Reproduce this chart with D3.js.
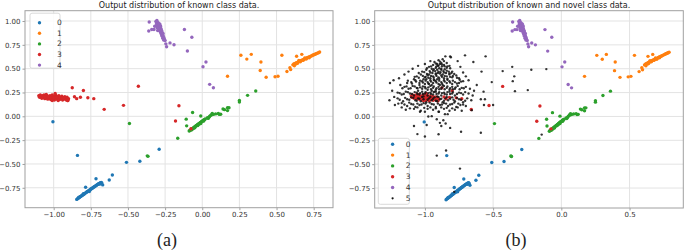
<!DOCTYPE html>
<html>
<head>
<meta charset="utf-8">
<script src="https://cdn.jsdelivr.net/npm/d3@7"></script>
<style>
  body { margin: 0; background: #fff; }
  svg { display: block; }
</style>
</head>
<body>
<svg id="drawing_region"></svg>
<script>
// ---- data (x, y in output space) ----
const classNames = ['0', '1', '2', '3', '4'];
const novelName = '5';
const classColors = ['#1f77b4', '#ff7f0e', '#2ca02c', '#d62728', '#9467bd'];

const class0 = [
  [-0.845,-0.872],[-0.840,-0.866],[-0.836,-0.860],[-0.832,-0.858],[-0.828,-0.851],[-0.824,-0.848],
  [-0.820,-0.842],[-0.816,-0.840],[-0.812,-0.834],[-0.808,-0.829],[-0.804,-0.826],[-0.800,-0.821],
  [-0.796,-0.815],[-0.792,-0.812],[-0.788,-0.806],[-0.784,-0.803],[-0.780,-0.797],[-0.776,-0.794],
  [-0.772,-0.788],[-0.768,-0.786],[-0.764,-0.780],[-0.760,-0.775],[-0.756,-0.772],[-0.752,-0.766],
  [-0.748,-0.763],[-0.744,-0.758],[-0.740,-0.754],[-0.736,-0.749],[-0.732,-0.745],[-0.728,-0.741],
  [-0.724,-0.736],[-0.720,-0.733],[-0.716,-0.727],[-0.712,-0.724],[-0.708,-0.719],[-0.704,-0.716],
  [-0.700,-0.711],[-0.696,-0.708],[-0.692,-0.704],[-0.688,-0.700],[-0.684,-0.698],[-0.680,-0.694],
  [-0.676,-0.700],[-0.690,-0.712],[-0.760,-0.790],[-0.800,-0.812],[-0.830,-0.849],
  [-1.005,-0.057],[-0.840,-0.410],[-0.715,-0.655],[-0.670,-0.720],[-0.626,-0.668],[-0.605,-0.616],
  [-0.510,-0.483],[-0.420,-0.472],[-0.290,-0.346],[-0.785,-0.745]
];
const class1 = [
  [0.610,0.540],[0.616,0.548],[0.622,0.552],[0.628,0.556],[0.634,0.562],[0.640,0.565],[0.646,0.571],
  [0.652,0.574],[0.658,0.580],[0.664,0.583],[0.670,0.589],[0.676,0.592],[0.682,0.597],[0.688,0.600],
  [0.694,0.606],[0.700,0.609],[0.706,0.614],[0.712,0.617],[0.718,0.623],[0.724,0.626],[0.730,0.631],
  [0.736,0.634],[0.742,0.640],[0.748,0.643],[0.754,0.648],[0.760,0.651],[0.766,0.657],[0.772,0.660],
  [0.778,0.665],[0.784,0.668],[0.790,0.674],[0.640,0.555],[0.660,0.572],[0.680,0.588],[0.700,0.600],
  [0.720,0.615],[0.650,0.585],[0.690,0.612],[0.620,0.530],[0.630,0.548],
  [0.260,0.640],[0.330,0.650],[0.300,0.600],[0.395,0.570],[0.390,0.480],[0.430,0.410],[0.170,0.420],
  [0.490,0.415],[0.510,0.420],[0.536,0.640],[0.635,0.630],[0.670,0.650],[0.570,0.470],[0.590,0.510],
  [0.595,0.490]
];
const class2 = [
  [-0.088,-0.155],[-0.084,-0.149],[-0.080,-0.146],[-0.076,-0.140],[-0.072,-0.136],[-0.068,-0.130],
  [-0.064,-0.127],[-0.060,-0.121],[-0.056,-0.117],[-0.052,-0.112],[-0.048,-0.108],[-0.044,-0.102],
  [-0.040,-0.099],[-0.036,-0.093],[-0.032,-0.089],[-0.028,-0.083],[-0.024,-0.080],[-0.020,-0.074],
  [-0.016,-0.070],[-0.012,-0.064],[-0.008,-0.061],[-0.004,-0.055],[0.000,-0.052],[0.004,-0.046],
  [0.008,-0.042],[0.012,-0.037],[0.016,-0.033],[0.020,-0.028],[-0.070,-0.142],[-0.050,-0.120],
  [-0.030,-0.096],[-0.010,-0.075],[0.010,-0.050],[-0.060,-0.128],[-0.020,-0.082],[0.035,-0.015],
  [0.040,-0.022],[0.045,-0.010],[0.050,0.000],[0.058,0.012],[0.063,0.015],[0.067,0.030],[0.075,0.020],
  [0.090,0.025],[0.108,0.030],[0.115,0.020],[0.124,0.022],[0.140,0.077],[0.150,0.070],[0.170,0.090],
  [0.180,0.090],[0.170,0.060],[0.250,0.165],[0.250,0.150],[0.305,0.220],[0.360,0.265],
  [-0.065,0.040],[-0.010,0.003],[-0.108,-0.030],[-0.105,-0.100],[-0.165,-0.230],[-0.370,-0.415],
  [-0.365,-0.420],[-0.490,-0.075]
];
const class3 = [
  [-1.100,0.215],[-1.095,0.200],[-1.090,0.225],[-1.085,0.205],[-1.080,0.190],[-1.075,0.215],
  [-1.070,0.200],[-1.065,0.225],[-1.060,0.185],[-1.055,0.210],[-1.050,0.195],[-1.045,0.220],
  [-1.040,0.180],[-1.035,0.205],[-1.030,0.190],[-1.025,0.215],[-1.020,0.175],[-1.015,0.200],
  [-1.010,0.225],[-1.005,0.185],[-1.000,0.210],[-0.995,0.170],[-0.990,0.195],[-0.985,0.220],
  [-0.980,0.180],[-0.975,0.205],[-0.970,0.190],[-0.965,0.215],[-0.960,0.175],[-0.955,0.200],
  [-0.950,0.185],[-0.945,0.210],[-0.940,0.170],[-0.935,0.195],[-0.930,0.180],[-0.925,0.205],
  [-0.920,0.190],[-0.915,0.170],[-0.910,0.200],[-0.905,0.165],[-0.900,0.185],[-1.060,0.205],
  [-1.040,0.200],[-1.020,0.195],[-1.000,0.195],[-0.980,0.200],[-0.960,0.195],[-0.940,0.190],
  [-0.990,0.240],[-1.050,0.230],[-0.970,0.165],[-1.010,0.165],
  [-0.875,0.300],[-0.800,0.270],[-0.770,0.195],[-0.730,0.185],[-0.820,0.200],[-0.845,0.185],
  [-0.860,0.205],[-0.660,0.073],[-0.530,0.115],[-0.430,0.315],[-0.157,0.110],[-0.180,-0.050],
  [-0.076,-0.130],[-0.905,0.165]
];
const class4 = [
  [-0.312,0.995],[-0.305,1.005],[-0.300,0.985],[-0.308,0.970],[-0.298,0.965],[-0.295,0.980],
  [-0.290,0.955],[-0.302,0.950],[-0.287,0.945],[-0.293,0.935],[-0.285,0.925],[-0.280,0.940],
  [-0.296,0.920],[-0.283,0.910],[-0.278,0.920],[-0.289,0.900],[-0.275,0.895],[-0.282,0.885],
  [-0.271,0.880],[-0.277,0.870],[-0.268,0.865],[-0.274,0.855],[-0.265,0.850],[-0.270,0.840],
  [-0.262,0.835],[-0.258,0.825],[-0.266,0.820],[-0.255,0.810],[-0.260,0.800],[-0.250,0.795],
  [-0.292,0.960],[-0.286,0.970],[-0.304,0.930],[-0.281,0.950],[-0.276,0.905],[-0.290,0.915],
  [-0.272,0.895],[-0.264,0.870],[-0.320,0.945],[-0.325,0.910],[-0.300,0.900],
  [-0.360,0.895],[-0.340,0.910],[-0.357,0.990],[-0.240,0.730],[-0.190,0.750],[-0.217,0.770],
  [-0.120,0.910],[-0.070,0.830],[-0.100,0.685],[0.005,0.520],[0.025,0.570],[0.050,0.335],
  [0.075,0.300],[-0.245,0.760]
];
const class5 = [
  [-0.93,0.57],[-0.90,0.59],[-0.88,0.56],[-0.86,0.58],[-0.91,0.55],[-0.87,0.60],[-0.84,0.56],
  [-0.97,0.52],[-0.94,0.54],[-0.92,0.51],[-0.90,0.53],[-0.88,0.50],[-0.86,0.54],[-0.84,0.51],
  [-0.95,0.50],[-0.89,0.55],[-0.82,0.53],
  [-1.02,0.47],[-0.99,0.49],[-0.96,0.46],[-0.94,0.48],[-0.92,0.45],[-0.90,0.47],[-0.88,0.49],
  [-0.86,0.46],[-0.84,0.48],[-0.82,0.45],[-0.97,0.44],[-0.91,0.49],[-0.87,0.44],[-0.80,0.47],
  [-1.06,0.42],[-1.03,0.44],[-1.00,0.41],[-0.98,0.43],[-0.96,0.40],[-0.94,0.42],[-0.92,0.44],
  [-0.90,0.41],[-0.88,0.43],[-0.86,0.40],[-0.84,0.42],[-0.82,0.44],[-0.80,0.41],[-0.77,0.43],
  [-0.99,0.39],[-0.93,0.38],[-0.89,0.45],[-1.08,0.39],[-0.75,0.40],
  [-1.10,0.36],[-1.07,0.38],[-1.04,0.35],[-1.02,0.37],[-1.00,0.34],[-0.98,0.36],[-0.96,0.38],
  [-0.94,0.35],[-0.92,0.37],[-0.90,0.34],[-0.88,0.36],[-0.86,0.38],[-0.84,0.35],[-0.82,0.37],
  [-0.80,0.34],[-0.78,0.36],[-0.75,0.35],[-1.01,0.39],[-0.95,0.33],[-0.91,0.39],[-0.87,0.33],
  [-1.13,0.35],[-0.72,0.37],
  [-1.15,0.31],[-1.12,0.29],[-1.09,0.32],[-1.06,0.30],[-1.04,0.33],[-1.02,0.29],[-1.00,0.31],
  [-0.98,0.28],[-0.96,0.32],[-0.94,0.30],[-0.92,0.28],[-0.90,0.31],[-0.88,0.29],[-0.86,0.32],
  [-0.84,0.30],[-0.82,0.28],[-0.80,0.31],[-0.78,0.29],[-0.76,0.32],[-0.73,0.30],[-0.70,0.31],
  [-1.05,0.27],[-0.97,0.34],[-0.93,0.26],[-0.89,0.33],[-1.18,0.33],[-0.67,0.29],
  [-1.20,0.25],[-1.17,0.23],[-1.14,0.26],[-1.11,0.24],[-1.08,0.22],[-1.06,0.25],[-1.04,0.23],
  [-1.02,0.26],[-1.00,0.24],[-0.98,0.22],[-0.96,0.25],[-0.94,0.23],[-0.92,0.26],[-0.90,0.24],
  [-0.88,0.22],[-0.86,0.25],[-0.84,0.23],[-0.82,0.26],[-0.80,0.24],[-0.78,0.22],[-0.75,0.25],
  [-0.72,0.23],[-0.68,0.24],[-1.01,0.21],[-0.95,0.27],[-0.91,0.21],[-0.65,0.22],[-1.24,0.27],
  [-1.26,0.17],[-1.20,0.19],[-1.16,0.16],[-1.13,0.18],[-1.10,0.20],[-1.07,0.17],[-1.05,0.19],
  [-1.03,0.16],[-1.01,0.18],[-0.99,0.15],[-0.97,0.19],[-0.95,0.17],[-0.93,0.20],[-0.91,0.16],
  [-0.89,0.18],[-0.87,0.15],[-0.85,0.19],[-0.83,0.17],[-0.80,0.20],[-0.78,0.16],[-0.75,0.18],
  [-0.72,0.15],[-0.69,0.19],[-0.66,0.17],
  [-1.22,0.12],[-1.17,0.14],[-1.13,0.11],[-1.10,0.13],[-1.07,0.10],[-1.04,0.12],[-1.01,0.14],
  [-0.98,0.11],[-0.95,0.13],[-0.92,0.10],[-0.89,0.12],[-0.86,0.14],[-0.83,0.11],[-0.80,0.13],
  [-0.77,0.10],[-0.74,0.12],[-0.70,0.11],
  [-1.14,0.07],[-1.08,0.08],[-1.03,0.06],[-0.98,0.08],[-0.94,0.07],[-0.90,0.05],[-0.86,0.08],
  [-0.82,0.06],[-0.78,0.07],[-0.73,0.06],
  [-0.92,0.555],[-0.89,0.575],[-0.875,0.545],[-0.905,0.535],[-0.855,0.525],
  [-0.985,0.505],[-0.955,0.525],[-0.935,0.495],[-0.915,0.525],[-0.895,0.505],[-0.875,0.525],
  [-0.855,0.495],[-0.835,0.525],[-0.815,0.505],
  [-1.045,0.455],[-1.005,0.465],[-0.985,0.445],[-0.965,0.475],[-0.945,0.455],[-0.925,0.475],
  [-0.905,0.455],[-0.885,0.465],[-0.865,0.475],[-0.845,0.455],[-0.825,0.470],[-0.805,0.455],
  [-0.785,0.445],
  [-1.075,0.415],[-1.045,0.405],[-1.015,0.425],[-0.995,0.415],[-0.975,0.405],[-0.955,0.425],
  [-0.935,0.405],[-0.915,0.425],[-0.895,0.395],[-0.875,0.415],[-0.855,0.425],[-0.835,0.395],
  [-0.815,0.415],[-0.795,0.425],[-0.765,0.405],[-0.745,0.385],
  [-1.125,0.375],[-1.095,0.345],[-1.065,0.365],[-1.035,0.375],[-1.015,0.355],[-0.995,0.375],
  [-0.975,0.345],[-0.955,0.365],[-0.935,0.385],[-0.915,0.355],[-0.895,0.375],[-0.875,0.345],
  [-0.855,0.365],[-0.835,0.385],[-0.815,0.355],[-0.795,0.375],[-0.765,0.345],[-0.735,0.365],
  [-1.165,0.295],[-1.135,0.315],[-1.105,0.295],[-1.075,0.315],[-1.055,0.295],[-1.035,0.305],
  [-1.015,0.315],[-0.995,0.295],[-0.975,0.305],[-0.955,0.285],[-0.935,0.315],[-0.915,0.295],
  [-0.895,0.285],[-0.875,0.305],[-0.855,0.285],[-0.835,0.315],[-0.815,0.295],[-0.795,0.285],
  [-0.775,0.305],[-0.745,0.285],[-0.715,0.295],
  [-1.185,0.245],[-1.155,0.235],[-1.125,0.255],[-1.095,0.235],[-1.075,0.255],[-1.055,0.235],
  [-1.035,0.245],[-1.015,0.235],[-0.995,0.255],[-0.975,0.245],[-0.955,0.235],[-0.935,0.255],
  [-0.915,0.235],[-0.895,0.255],[-0.875,0.245],[-0.855,0.235],[-0.835,0.255],[-0.815,0.235],
  [-0.795,0.255],[-0.765,0.235],[-0.735,0.245],[-0.705,0.255],
  [-1.225,0.205],[-1.185,0.175],[-1.145,0.195],[-1.115,0.175],[-1.085,0.195],[-1.060,0.165],
  [-1.040,0.185],[-1.020,0.205],[-0.980,0.175],[-0.960,0.205],[-0.940,0.185],[-0.920,0.165],
  [-0.900,0.205],[-0.880,0.185],[-0.860,0.165],[-0.840,0.205],[-0.815,0.185],[-0.790,0.175],
  [-0.765,0.195],[-0.735,0.175],[-0.705,0.165],
  [-1.195,0.135],[-1.150,0.125],[-1.115,0.145],[-1.085,0.125],[-1.055,0.135],[-1.025,0.125],
  [-0.995,0.135],[-0.965,0.145],[-0.935,0.125],[-0.905,0.135],[-0.875,0.125],[-0.845,0.135],
  [-0.815,0.125],[-0.785,0.145],[-0.755,0.135],[-0.720,0.125],
  [-1.170,0.095],[-1.110,0.085],[-1.055,0.095],[-1.005,0.090],[-0.960,0.095],[-0.920,0.085],
  [-0.880,0.095],[-0.840,0.090],[-0.800,0.085],[-0.760,0.095],
  [-1.256,0.35],[-1.23,0.38],[-1.19,0.40],[-1.15,0.44],[-1.12,0.47],[-1.09,0.50],[-1.05,0.53],
  [-1.00,0.55],[-0.96,0.58],[-0.85,0.63],[-0.81,0.62],[-0.76,0.58],[-0.74,0.52],[-0.72,0.46],
  [-0.70,0.42],[-0.68,0.38],
  [-0.815,0.63],[-0.706,0.64],[-0.555,0.63],[-0.645,0.57],[-0.585,0.47],[-0.51,0.36],[-0.43,0.475],
  [-0.36,0.52],[-0.345,0.42],[-0.356,0.37],[-0.22,0.49],[-0.11,0.496],[-0.34,0.265],[-0.246,0.276],
  [-0.57,0.26],[-0.59,0.18],[-0.56,0.18],[-0.567,0.12],[-0.50,0.12],[-0.657,0.066],[-0.62,0.33],
  [-0.64,0.27],
  [-1.036,0.05],[-1.0,0.05],[-0.975,0.0],[-0.95,0.003],[-0.897,0.05],[-0.853,0.024],[-0.833,0.024],
  [-1.08,-0.1],[-0.987,-0.09],[-0.89,-0.067],[-0.88,-0.1],[-0.848,-0.074],[-0.865,-0.04],
  [-0.913,-0.03],[-0.815,-0.12],[-1.055,-0.185],[-1.0,-0.21],[-0.9,-0.186],[-0.735,-0.16],
  [-0.59,-0.17],[-0.913,-0.41],[-0.845,-0.357],[-0.743,-0.546],[-0.785,-0.79],[-0.144,-0.19]
];

const knownClasses = [class0, class1, class2, class3, class4];

const yTicks = [-0.75, -0.5, -0.25, 0, 0.25, 0.5, 0.75, 1.0];
const xTicksA = [-1.0, -0.75, -0.5, -0.25, 0, 0.25, 0.5, 0.75];
const xTicksB = [-1.0, -0.5, 0, 0.5];
const xDomainA = [-1.193, 0.880];
const xDomainB = [-1.368, 0.894];
const yDomain = [-0.959, 1.108];

const svg = d3.select('#drawing_region')
    .attr('width', 685)
    .attr('height', 252);

class ScatterChart {

    constructor( config, series, extra ){
        this.config = config;
        this.series = series;
        this.extra = extra;
        this.init();
    }

    init(){
        let self = this;
        const c = self.config;

        self.g = svg.append('g')
            .attr('transform', `translate(${c.left}, ${c.top})`);

        self.xscale = d3.scaleLinear().domain(c.xdomain).range([0, c.width]);
        self.yscale = d3.scaleLinear().domain(yDomain).range([c.height, 0]);

        // grid
        self.g.append('g').selectAll('line')
            .data(c.xticks).join('line')
            .attr('x1', d => self.xscale(d)).attr('x2', d => self.xscale(d))
            .attr('y1', 0).attr('y2', c.height)
            .attr('stroke', '#e3e3e3').attr('stroke-width', 1);
        self.g.append('g').selectAll('line')
            .data(yTicks).join('line')
            .attr('x1', 0).attr('x2', c.width)
            .attr('y1', d => self.yscale(d)).attr('y2', d => self.yscale(d))
            .attr('stroke', '#e3e3e3').attr('stroke-width', 1);

        self.xaxis = d3.axisBottom(self.xscale)
            .tickValues(c.xticks)
            .tickFormat(d3.format(c.xformat))
            .tickSize(2.5).tickPadding(2).tickSizeOuter(0);
        self.yaxis = d3.axisLeft(self.yscale)
            .tickValues(yTicks)
            .tickFormat(d3.format('.2f'))
            .tickSize(2.5).tickPadding(2).tickSizeOuter(0);

        svg.append('text')
            .attr('x', c.left + c.width / 2)
            .attr('y', 8)
            .attr('text-anchor', 'middle')
            .attr('font-family', 'DejaVu Sans')
            .attr('font-size', '8px')
            .attr('fill', '#222')
            .text(c.title);

        svg.append('text')
            .attr('x', c.captionX)
            .attr('y', 246)
            .attr('text-anchor', 'middle')
            .attr('font-family', 'Liberation Serif')
            .attr('font-size', '18px')
            .attr('fill', '#222')
            .text(c.caption);
    }

    render(){
        let self = this;
        const c = self.config;

        const marks = self.g.append('g');
        self.series.forEach((pts, i) => {
            marks.append('g').selectAll('circle')
                .data(pts).join('circle')
                .attr('cx', d => self.xscale(d[0]))
                .attr('cy', d => self.yscale(d[1]))
                .attr('r', 1.7)
                .attr('fill', classColors[i]);
        });
        if (self.extra) {
            marks.append('g').selectAll('circle')
                .data(self.extra).join('circle')
                .attr('cx', d => self.xscale(d[0]))
                .attr('cy', d => self.yscale(d[1]))
                .attr('r', 1.2)
                .attr('fill', '#111')
                .attr('fill-opacity', 0.85);
        }

        // frame
        self.g.append('rect')
            .attr('width', c.width).attr('height', c.height)
            .attr('fill', 'none').attr('stroke', '#a0a0a0').attr('stroke-width', 1);

        const xg = self.g.append('g')
            .attr('transform', `translate(0, ${c.height})`)
            .call(self.xaxis);
        const yg = self.g.append('g').call(self.yaxis);
        [xg, yg].forEach(ax => {
            ax.select('.domain').remove();
            ax.selectAll('line').attr('stroke', '#a0a0a0');
            ax.selectAll('text')
                .attr('font-family', 'DejaVu Sans')
                .attr('font-size', '7px')
                .attr('fill', '#333');
        });

        // legend
        const names = self.extra ? classNames.concat([novelName]) : classNames;
        const lg = self.g.append('g')
            .attr('transform', `translate(${c.legend.x}, ${c.legend.y})`);
        lg.append('rect')
            .attr('width', c.legend.w).attr('height', c.legend.h)
            .attr('rx', 2)
            .attr('fill', '#fff').attr('fill-opacity', 0.85)
            .attr('stroke', '#d0d0d0').attr('stroke-width', 0.8);
        names.forEach((n, i) => {
            const yy = c.legend.first + i * c.legend.step;
            lg.append('circle')
                .attr('cx', c.legend.mx).attr('cy', yy)
                .attr('r', i < 5 ? 1.7 : 1.1)
                .attr('fill', i < 5 ? classColors[i] : '#111');
            lg.append('text')
                .attr('x', c.legend.tx).attr('y', yy + 2.6)
                .attr('font-family', 'DejaVu Sans')
                .attr('font-size', '7.5px')
                .attr('fill', '#333')
                .text(n);
        });
    }
}

const chartA = new ScatterChart({
    left: 25, top: 10.7, width: 308, height: 197,
    xdomain: xDomainA, xticks: xTicksA, xformat: '.2f',
    title: 'Output distribution of known class data.',
    caption: '(a)', captionX: 167,
    legend: {x: 5, y: 2.5, w: 30, h: 55, first: 9.5, step: 10.6, mx: 9.5, tx: 27}
}, knownClasses, null);
chartA.render();

const chartB = new ScatterChart({
    left: 374.7, top: 10.7, width: 308.6, height: 197.3,
    xdomain: xDomainB, xticks: xTicksB, xformat: '.1f',
    title: 'Output distribution of known and novel class data.',
    caption: '(b)', captionX: 516,
    legend: {x: 3.6, y: 127.6, w: 31, h: 66, first: 6, step: 10.8, mx: 14.3, tx: 27.5}
}, knownClasses, class5);
chartB.render();
</script>
</body>
</html>
